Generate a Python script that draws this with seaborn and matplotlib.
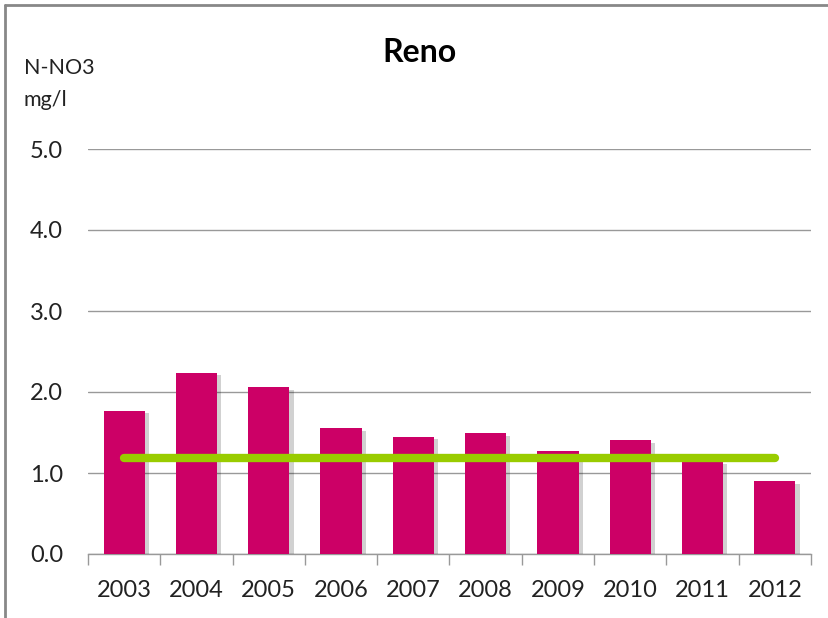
import matplotlib
matplotlib.use('Agg')
import numpy as np
import pandas as pd
import seaborn as sns
from matplotlib import pyplot as plt
from matplotlib import patheffects
from matplotlib.lines import Line2D

# values
years = ['2003', '2004', '2005', '2006', '2007', '2008', '2009', '2010', '2011', '2012']
no3 = [1.77, 2.24, 2.06, 1.55, 1.45, 1.49, 1.27, 1.41, 1.15, 0.90]
reference_level = 1.19

sns.set_theme(style='white')
plt.rcParams['font.family'] = ['Lato', 'DejaVu Sans']

W, H = 829, 618
fig = plt.figure(figsize=(W / 100, H / 100), dpi=100)
fig.patch.set_facecolor('white')

# plot area in pixel coordinates
left, right, top, bottom = 88, 811, 149, 554
ax = fig.add_axes([left / W, 1 - bottom / H, (right - left) / W, (bottom - top) / H])

df = pd.DataFrame({'year': years, 'no3': no3})
sns.barplot(data=df, x='year', y='no3', color='#CC0066', saturation=1,
            width=0.57, ax=ax, zorder=3)
for bar in ax.patches:
    bar.set_edgecolor('none')
    bar.set_path_effects([patheffects.withSimplePatchShadow(
        offset=(3, -2), shadow_rgbFace='black', alpha=0.18)])

ax.plot([0, len(years) - 1], [reference_level, reference_level],
        color='#99CC00', lw=6, solid_capstyle='round', zorder=4)

ax.set_xlim(-0.5, len(years) - 0.5)
ax.set_ylim(0, 5)
ax.set_yticks(np.arange(0, 5.1, 1.0))
ax.set_yticklabels(['%.1f' % v for v in np.arange(0, 5.1, 1.0)])
ax.yaxis.grid(True, color='#999999', lw=1)
ax.set_axisbelow(True)

ax.set_xticks(np.arange(-0.5, len(years)), minor=True)
ax.tick_params(axis='x', which='minor', length=8, width=1, color='#999999',
               bottom=True)
ax.tick_params(axis='x', which='major', length=0, pad=19, labelsize=17,
               labelcolor='#222222')
ax.tick_params(axis='y', length=0, pad=18, labelsize=17, labelcolor='#222222')
ax.set_xlabel('')
ax.set_ylabel('')

for s in ['top', 'right', 'left']:
    ax.spines[s].set_visible(False)
ax.spines['bottom'].set_color('#999999')
ax.spines['bottom'].set_linewidth(1)

fig.text(420 / W, 1 - 52 / H, 'Reno', ha='center', va='center',
         fontsize=23, fontweight='bold', color='black')
fig.text(24 / W, 1 - 68 / H, 'N-NO3', ha='left', va='center',
         fontsize=15.5, color='#222222')
fig.text(24 / W, 1 - 100 / H, 'mg/l', ha='left', va='center',
         fontsize=15.5, color='#222222')

# outer frame of the chart box
fig.add_artist(Line2D([5 / W, 1], [1 - 5 / H, 1 - 5 / H], color='#888888', lw=2,
                      transform=fig.transFigure))
fig.add_artist(Line2D([5 / W, 5 / W], [0, 1 - 5 / H], color='#888888', lw=2,
                      transform=fig.transFigure))

fig.savefig('out.png', dpi=100)
